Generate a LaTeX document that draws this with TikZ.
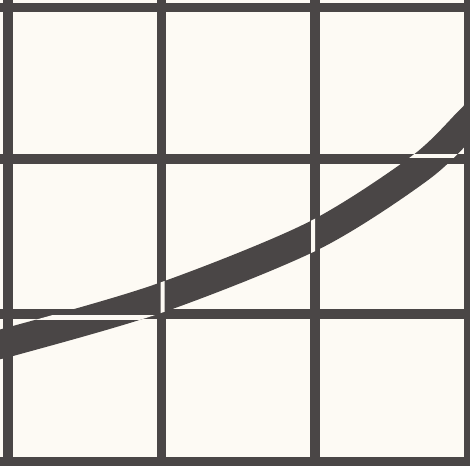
\documentclass[tikz,border=0pt]{standalone}
\definecolor{ink}{HTML}{4A4646}
\definecolor{paper}{HTML}{FDFAF4}
\begin{document}
\begin{tikzpicture}[x=1pt,y=-1pt,
  gridline/.style={ink, line width=9.5pt},
  band/.style={ink, line width=29pt},
  gapband/.style={paper, line width=29pt}]
\fill[paper] (0,0) rectangle (470,465);
\useasboundingbox (0,0) rectangle (470,465);
\clip (0,0) rectangle (470,465);
% grid
\foreach \x in {8,161.5,315,469} \draw[gridline] (\x,-5) -- (\x,470);
\foreach \y in {7.5,159,314,462} \draw[gridline] (-5,\y) -- (475,\y);
% band
\draw[band] plot[smooth] coordinates {(-20,348) (13,341) (160,298) (313,236) (420,168) (470,120) (490,99)};
% white slivers where the band crosses the grid lines
\begin{scope}
  \clip (160.5,200) rectangle (164.5,360);
  \draw[gapband] plot[smooth] coordinates {(-20,348) (13,341) (160,298) (313,236) (420,168) (470,120) (490,99)};
\end{scope}
\begin{scope}
  \clip (311,150) rectangle (315,320);
  \draw[gapband] plot[smooth] coordinates {(-20,348) (13,341) (160,298) (313,236) (420,168) (470,120) (490,99)};
\end{scope}
\begin{scope}
  \clip (0,315.5) rectangle (300,319);
  \draw[gapband] plot[smooth] coordinates {(-20,348) (13,341) (160,298) (313,236) (420,168) (470,120) (490,99)};
\end{scope}
\begin{scope}
  \clip (330,154) rectangle (470,157.5);
  \draw[gapband] plot[smooth] coordinates {(-20,348) (13,341) (160,298) (313,236) (420,168) (470,120) (490,99)};
\end{scope}
\end{tikzpicture}
\end{document}
